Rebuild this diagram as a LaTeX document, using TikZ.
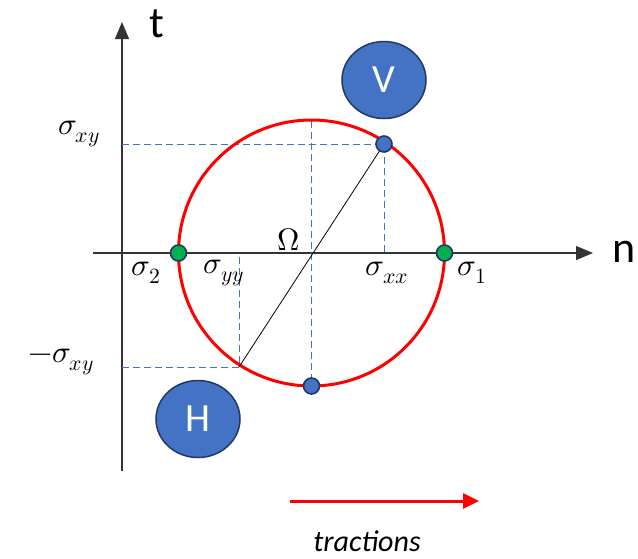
\documentclass[tikz,border=0pt]{standalone}
\usepackage{fontspec}
\usepackage{unicode-math}
\setmainfont{Carlito}
\usepackage{xcolor}
\usetikzlibrary{shapes,arrows.meta,positioning}

\definecolor{poleblue}{HTML}{4472C4}
\definecolor{poleedge}{HTML}{1F3864}
\definecolor{princgreen}{HTML}{00B050}

\begin{document}
\begin{tikzpicture}[
    x=1pt, y=-1pt,
    axis/.style={draw=black!80, line width=1.3pt, -{Triangle[length=17pt,width=14pt]}},
    guide/.style={draw=poleblue, dash pattern=on 7pt off 4pt, line width=0.9pt},
    mohr/.style={draw=red, line width=3pt},
    pole/.style={ellipse, draw=poleedge, line width=1.5pt, fill=poleblue, minimum width=84pt, minimum height=77pt, text=white, font=\fontsize{40}{40}\selectfont},
    dot/.style={circle, draw=poleedge, line width=1.6pt, minimum size=16pt, inner sep=0pt},
    lbl/.style={font=\fontsize{31}{31}\selectfont}
]
\useasboundingbox (0,0) rectangle (638,558);

% axes
\coordinate (orig) at (122,253);
\coordinate (ttop) at (122,22);
\coordinate (tbot) at (122,471);
\coordinate (nleft) at (93,253);
\coordinate (nright) at (593,253);
\draw[axis] (tbot) -- (ttop);
\draw[axis] (nleft) -- (nright);
\node[font=\fontsize{44}{44}\selectfont] (tlab) at (157,24) {t};
\node[font=\fontsize{44}{44}\selectfont] (nlab) at (624,252) {n};

% Mohr circle and points
\coordinate (ctr) at (311.5,253);
\coordinate (vpt) at (384,144);
\coordinate (hpt) at (239,367);
\coordinate (ctop) at (311.5,121);
\draw[guide] (orig |- vpt) -- (vpt) -- (vpt |- orig);
\draw[guide] (orig |- hpt) -- (hpt) -- (hpt |- orig);
\draw[guide] (ctop) -- (311.5,386);
\draw[mohr] (ctr) circle[radius=133];
\draw[black, line width=0.8pt] (vpt) -- (hpt);

\node[dot, fill=poleblue] (vdot) at (vpt) {};
\node[dot, fill=poleblue] (bdot) at (311.5,386) {};
\node[dot, fill=princgreen] (s2dot) at (178.5,253) {};
\node[dot, fill=princgreen] (s1dot) at (444.5,253) {};

% poles
\node[pole] (vpole) at (384,80) {V};
\node[pole] (hpole) at (198,419) {H};

% labels
\node[lbl] (sxy) at (79,134) {$\sigma_{xy}$};
\node[lbl] (msxy) at (61,362) {$-\sigma_{xy}$};
\node[lbl] (s2) at (146,273) {$\sigma_2$};
\node[lbl] (syy) at (224,273) {$\sigma_{yy}$};
\node[lbl] (omega) at (289,240) {$\Omega$};
\node[lbl] (sxx) at (387,273) {$\sigma_{xx}$};
\node[lbl] (s1) at (472,273) {$\sigma_1$};

% tractions
\coordinate (trs) at (290,501);
\coordinate (tre) at (479,501);
\draw[draw=red, line width=3pt, -{Triangle[length=16pt,width=15pt]}, red] (trs) -- (tre);
\node[font=\fontsize{30}{30}\selectfont\itshape] (trlab) at (367,541) {tractions};

\end{tikzpicture}
\end{document}
